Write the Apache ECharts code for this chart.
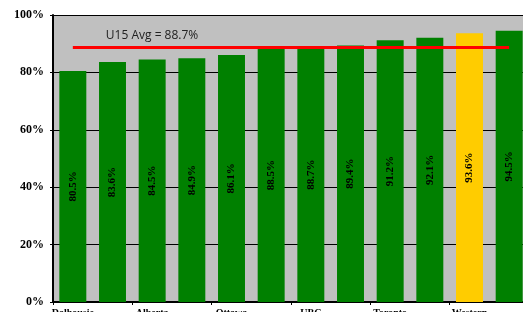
<!DOCTYPE html>
<html>
<head>
<meta charset="utf-8">
<script src="https://cdn.jsdelivr.net/npm/echarts@6/dist/echarts.min.js"></script>
<style>
  html, body { margin: 0; padding: 0; background: #fff; }
  #chart { width: 523px; height: 312px; }
</style>
</head>
<body>
<div id="chart"></div>
<script>
const schools = ['Dalhousie', 'Manitoba', 'Alberta', 'Saskatchewan', 'Ottawa', 'Calgary',
  'UBC', 'Laval', 'Toronto', 'McMaster', 'Western', "Queen's"];
const rates = [80.5, 83.6, 84.5, 84.9, 86.1, 88.5, 88.7, 89.4, 91.2, 92.1, 93.6, 94.5];
const highlight = 'Western';
const u15Avg = 88.7;
const yTicks = [0, 20, 40, 60, 80, 100];

const chart = echarts.init(document.getElementById('chart'));

const barData = rates.map((v, i) => ({
  value: v,
  itemStyle: { color: schools[i] === highlight ? '#FFCC00' : '#008000' },
}));

chart.setOption({
  animation: false,
  grid: {
    left: 53, top: 15, width: 476, height: 287,
    outerBoundsMode: 'none',
    containLabel: false,
    show: true, backgroundColor: '#C0C0C0', borderWidth: 0,
  },
  xAxis: {
    type: 'category',
    data: schools,
    axisLine: { lineStyle: { color: '#000', width: 2 } },
    axisTick: { show: true, length: 3, lineStyle: { color: '#000' } },
    axisLabel: {
      interval: 1, margin: 6, color: '#000',
      fontFamily: 'Liberation Serif', fontWeight: 'bold', fontSize: 10,
    },
  },
  yAxis: {
    type: 'value',
    min: yTicks[0], max: yTicks[yTicks.length - 1], interval: 20,
    axisLine: { show: true, lineStyle: { color: '#000', width: 2 } },
    axisTick: { show: true, length: 3, lineStyle: { color: '#000' } },
    splitLine: { lineStyle: { color: '#000', width: 1 } },
    axisLabel: {
      formatter: '{value}%', margin: 9, color: '#000',
      fontFamily: 'Liberation Serif', fontWeight: 'bold', fontSize: 12,
    },
  },
  series: [{
    type: 'bar',
    data: barData,
    barCategoryGap: '32%',
    label: {
      show: true, position: 'inside', rotate: 90,
      formatter: p => p.value.toFixed(1) + '%',
      color: '#000', fontFamily: 'Liberation Serif', fontWeight: 'bold', fontSize: 11,
    },
    markLine: {
      symbol: 'none',
      silent: true,
      lineStyle: { color: '#FF0000', width: 3, type: 'solid' },
      label: {
        show: true,
        position: 'insideStartTop',
        distance: [33, 6],
        formatter: 'U15 Avg = ' + u15Avg + '%',
        color: '#222', fontFamily: 'Open Sans', fontSize: 12,
      },
      data: [[
        { coord: [schools[0], u15Avg] },
        { coord: [schools[schools.length - 1], u15Avg] },
      ]],
    },
  }],
});
</script>
</body>
</html>
